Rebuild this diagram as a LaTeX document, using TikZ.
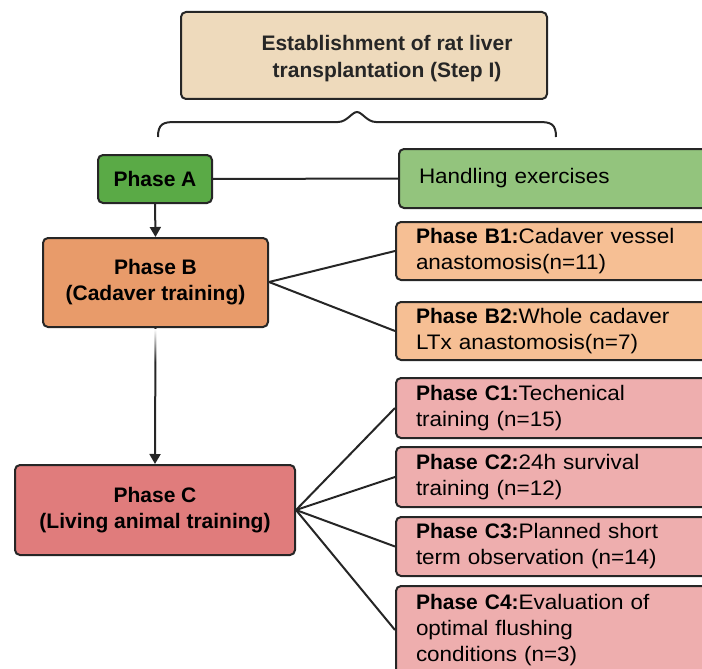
\documentclass[tikz,border=0pt]{standalone}
\usepackage{fontspec}
\setmainfont{Liberation Sans}[UprightFeatures={FakeStretch=1.07}]
\usetikzlibrary{arrows.meta,fadings}
\definecolor{edge}{HTML}{262626}
\definecolor{topc}{HTML}{EEDABC}
\definecolor{agreen}{HTML}{5AAA46}
\definecolor{hgreen}{HTML}{93C47D}
\definecolor{borange}{HTML}{E89B6A}
\definecolor{lorange}{HTML}{F6BF94}
\definecolor{cred}{HTML}{E07C7C}
\definecolor{lred}{HTML}{EEAEAE}
\begin{document}
\begin{tikzpicture}[x=1pt,y=-1pt,
  box/.style={draw=edge, line width=2pt, rounded corners=5pt, inner sep=0pt, font=\fontsize{21}{26}\selectfont},
  sidebox/.style={box, anchor=west, align=left, inner xsep=20pt, text width=290pt, inner ysep=0pt},
  conn/.style={draw=edge, line width=2pt},
  arr/.style={conn, -{Triangle[width=11pt,length=10pt]}}]
\useasboundingbox (0,0) rectangle (702,669);
\clip (0,0) rectangle (702,669);
% top box
\node[box, fill=topc, minimum width=366pt, minimum height=87pt] (top) at (364,55.5) {};
\node[font=\fontsize{21}{27}\selectfont\bfseries, align=center, text=edge] (toptxt) at (387,59) {Establishment of rat liver\\transplantation (Step I)};
% brace
\draw[conn] (158,137) .. controls (158,124) and (163,122) .. (175,122) -- (338,122)
  .. controls (347,122) and (352,112) .. (357,112) .. controls (362,112) and (367,122) .. (376,122)
  -- (539,122) .. controls (551,122) and (556,124) .. (556,137);
% left column
\node[box, fill=agreen, minimum width=114pt, minimum height=48pt, font=\fontsize{21}{26}\selectfont\bfseries] (A) at (155,179) {Phase A};
\node[box, fill=borange, minimum width=225pt, minimum height=89pt, align=center, font=\fontsize{21}{26}\selectfont\bfseries] (B) at (155.5,282.5) {Phase B\\(Cadaver training)};
\node[box, fill=cred, minimum width=280pt, minimum height=90pt, align=center, font=\fontsize{21}{26}\selectfont\bfseries] (C) at (155,510) {Phase C\\(Living animal training)};
% right column
\node[sidebox, fill=hgreen, minimum height=59pt] (H) at (398,178.5) {\raisebox{-2pt}{Handling exercises}};
\node[sidebox, fill=lorange, minimum height=58pt] (B1) at (395,251) {\textbf{Phase B1:}Cadaver vessel\\anastomosis(n=11)};
\node[sidebox, fill=lorange, minimum height=58pt] (B2) at (395,331) {\textbf{Phase B2:}Whole cadaver\\LTx anastomosis(n=7)};
\node[sidebox, fill=lred, minimum height=60pt] (C1) at (395,408) {\textbf{Phase C1:}Techenical\\training (n=15)};
\node[sidebox, fill=lred, minimum height=60pt] (C2) at (395,477) {\textbf{Phase C2:}24h survival\\training (n=12)};
\node[sidebox, fill=lred, minimum height=59pt] (C3) at (395,546.5) {\textbf{Phase C3:}Planned short\\term observation (n=14)};
\node[sidebox, fill=lred, minimum height=88pt] (C4) at (395,630) {\textbf{Phase C4:}Evaluation of\\optimal flushing\\conditions (n=3)};
% connectors
\draw[conn] (A.east) -- (H.west);
\draw[arr] (A.south) -- (B.north);
\draw[arr] (B.south) -- (C.north);
\fill[white, path fading=south] (150,329) rectangle (160,362);
\coordinate (bj) at (269,282);
\draw[conn] (bj) -- (B1.west);
\draw[conn] (bj) -- (B2.west);
\coordinate (cj) at (296,510);
\draw[conn] (cj) -- (C1.west);
\draw[conn] (cj) -- (C2.west);
\draw[conn] (cj) -- (C3.west);
\draw[conn] (cj) -- (C4.west);
\end{tikzpicture}
\end{document}
